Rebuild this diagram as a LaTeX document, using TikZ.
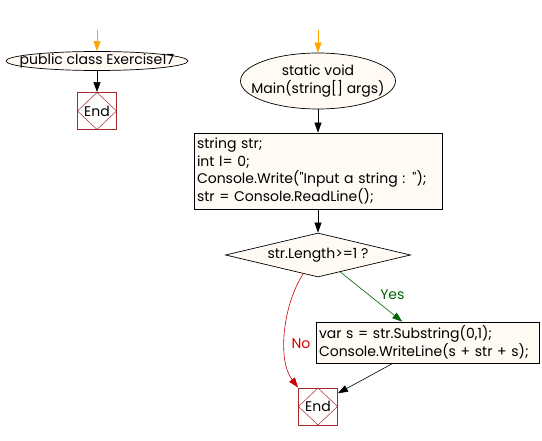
\documentclass[tikz,border=0pt]{standalone}
\usepackage{fontspec}
\setmainfont{Poppins}[Ligatures=TeXOff]
\usetikzlibrary{shapes.geometric,arrows.meta,calc}
\definecolor{fillc}{HTML}{FFFAF3}
\definecolor{endc}{HTML}{A52A2A}
\definecolor{orangec}{HTML}{FFA500}
\definecolor{greenc}{HTML}{006400}
\definecolor{redc}{HTML}{CC0000}
\tikzset{
  ell/.style={ellipse, draw=black, fill=fillc, line width=0.7pt, inner sep=0pt},
  elltext/.style={align=center, font=\fontsize{14}{18}\selectfont, inner sep=0pt},
  blockbox/.style={rectangle, draw=black, fill=fillc, line width=0.7pt, inner sep=3pt, align=left, font=\fontsize{14}{17.5}\selectfont},
  decbox/.style={diamond, draw=black, fill=fillc, line width=0.7pt, inner sep=0pt, font=\fontsize{14}{16}\selectfont},
  endbox/.style={rectangle, draw=endc, fill=white, line width=0.8pt, minimum width=39pt, minimum height=37pt, inner sep=0pt, font=\fontsize{14}{16}\selectfont,
    path picture={\draw[endc, line width=0.5pt] (path picture bounding box.north) -- (path picture bounding box.east) -- (path picture bounding box.south) -- (path picture bounding box.west) -- cycle;}},
  arr/.style={-{Triangle[length=10pt,width=7pt]}, line width=0.6pt},
  lbl/.style={font=\fontsize{14}{16}\selectfont},
}
\begin{document}
\begin{tikzpicture}[x=1pt,y=-1pt]
\useasboundingbox (0,0) rectangle (542,441);
% left flow
\node[ell, minimum width=182pt, minimum height=19pt, label={[elltext]center:public class Exercise17}] (c1) at (97,61) {};
\node[endbox] (e1) at (97,111) {End};
\coordinate (s1) at (97,30);
\draw[arr, orangec] (s1) -- (c1);
\draw[arr, black] (c1) -- (e1);
% main flow
\node[ell, minimum width=155pt, minimum height=56pt, label={[elltext]center:static void\\Main(string[] args)}] (m) at (318,81) {};
\coordinate (s2) at (318,30);
\draw[arr, orangec] (s2) -- (m);
\node[blockbox, minimum width=248pt, minimum height=76pt, text width=242pt] (b1) at (318,171) {string str;\\int l= 0;\\Console.Write("Input a string : ");\\str = Console.ReadLine();};
\draw[arr] (m) -- (b1);
\node[decbox, minimum width=185pt, minimum height=44pt, aspect=4.2] (d) at (318,255) {str.Length>=1 ?};
\draw[arr] (b1) -- (d);
\node[blockbox, minimum width=223pt, minimum height=41pt, text width=217pt] (b2) at (427.5,342.5) {var s = str.Substring(0,1);\\Console.WriteLine(s + str + s);};
\node[endbox] (e2) at (318,406.5) {End};
% yes
\coordinate (y0) at ($(d.south)!0.24!(d.east)$);
\coordinate (y1) at ($(b2.north west)!0.387!(b2.north east)$);
\draw[arr, greenc] (y0) -- node[lbl, pos=0.62, above right, xshift=-2pt] {Yes} (y1);
% no
\coordinate (n0) at ($(d.south)!0.16!(d.west)$);
\draw[arr, redc] (n0) .. controls (283,305) and (277,360) .. (e2.north west);
\node[lbl, text=redc] (nolbl) at (301,344) {No};
% back
\coordinate (k0) at ($(b2.south west)!0.345!(b2.south east)$);
\draw[arr] (k0) -- ($(e2.north east)!0.15!(e2.south east)$);
\end{tikzpicture}
\end{document}
